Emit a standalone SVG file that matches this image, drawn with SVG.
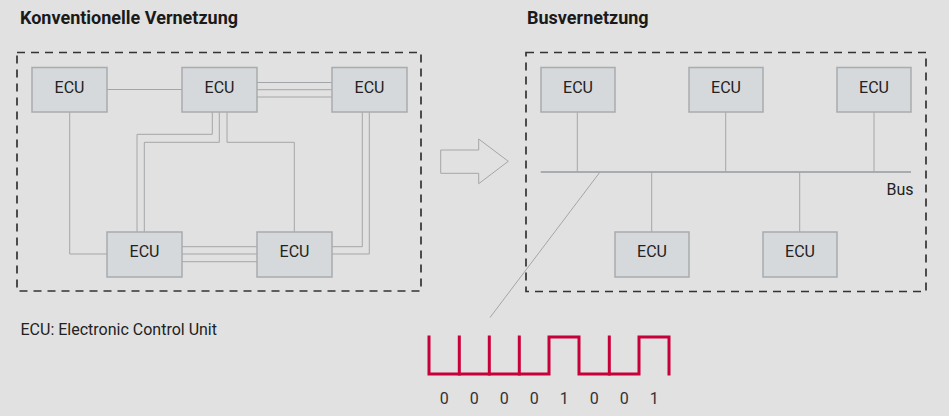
<svg xmlns="http://www.w3.org/2000/svg" width="949" height="416" viewBox="0 0 949 416">
<style>
.bg{fill:#e1e1e1}
.frame{fill:none;stroke:#333;stroke-width:1.7;stroke-dasharray:8 6}
.ecu rect{fill:#d6d9dc;stroke:#a9abad;stroke-width:1.5}
.ecu text,.lbl{font-family:Roboto,"Liberation Sans",sans-serif;fill:#222}
.ecu text{font-size:16px;text-anchor:middle}
.title{font-family:Roboto,"Liberation Sans",sans-serif;font-weight:bold;font-size:18px;fill:#1a1a1a}
.lbl{font-size:16px}
.wire{fill:none;stroke:#a3a6a8;stroke-width:1}
.bus{fill:none;stroke:#a8acaf;stroke-width:2}
.sig{fill:none;stroke:#c8003a;stroke-width:3;stroke-linejoin:miter;stroke-linecap:square}
.bits{font-family:Roboto,"Liberation Sans",sans-serif;font-size:16px;fill:#333;text-anchor:middle}
</style>
<rect class="bg" x="0" y="0" width="949" height="416"/>
<text class="title" x="20" y="24">Konventionelle Vernetzung</text>
<text class="title" x="527" y="24">Busvernetzung</text>
<rect class="frame" x="17" y="52.5" width="404" height="238.5"/>
<rect class="frame" x="526" y="52.5" width="400" height="239"/>

<g id="connectors">
<path class="wire" d="M107,89.5H182"/>
<path class="wire" d="M257,82.5H332M257,89.7H332M257,97H332"/>
<path class="wire" d="M69.7,112V254H107"/>
<path class="wire" d="M212.3,112V134.3H137V232"/>
<path class="wire" d="M219.3,112V142.3H144.3V232"/>
<path class="wire" d="M227,112V142.3H294.3V232"/>
<path class="wire" d="M362.3,112V246.7H332"/>
<path class="wire" d="M369.3,112V254H332"/>
<path class="wire" d="M182,246.7H257M182,254H257M182,261.7H257"/>
<path class="wire" d="M440.7,150H478.7V139L508.3,161.3L478.7,183.7V173.3H440.7Z" stroke="#9a9da0"/>
<path class="bus" d="M540.7,172H911"/>
<path class="wire" d="M577.3,112V172M725.7,112V172M874,112V172M651.7,172V232M799.7,172V232"/>
<path class="wire" d="M600,172L490,317.5"/>
<path class="sig" d="M429,337V374H549V337H579V374H639V337H669V374"/>
<path class="sig" d="M459.3,337V374M489.3,337V374M519.3,337V374M609.3,337V374"/>
</g>

<g id="ecu1" class="ecu"><rect x="32" y="67.5" width="75" height="44.5"/><text x="69.5" y="92.5">ECU</text></g>
<g id="ecu2" class="ecu"><rect x="182" y="67.5" width="75" height="44.5"/><text x="219.5" y="92.5">ECU</text></g>
<g id="ecu3" class="ecu"><rect x="332" y="67.5" width="75" height="44.5"/><text x="369.5" y="92.5">ECU</text></g>
<g id="ecu4" class="ecu"><rect x="107" y="232" width="75" height="45"/><text x="144.5" y="257">ECU</text></g>
<g id="ecu5" class="ecu"><rect x="257" y="232" width="75" height="45"/><text x="294.5" y="257">ECU</text></g>

<g id="bus-ecu1" class="ecu"><rect x="541" y="67.5" width="74" height="44.5"/><text x="578" y="92.5">ECU</text></g>
<g id="bus-ecu2" class="ecu"><rect x="689" y="67.5" width="74" height="44.5"/><text x="726" y="92.5">ECU</text></g>
<g id="bus-ecu3" class="ecu"><rect x="837" y="67.5" width="74" height="44.5"/><text x="874" y="92.5">ECU</text></g>
<g id="bus-ecu4" class="ecu"><rect x="615" y="232" width="74" height="45"/><text x="652" y="257">ECU</text></g>
<g id="bus-ecu5" class="ecu"><rect x="763" y="232" width="74" height="45"/><text x="800" y="257">ECU</text></g>

<text class="lbl" x="886.5" y="195">Bus</text>
<text class="lbl" x="20.5" y="335">ECU: Electronic Control Unit</text>

<g id="bits">
<text class="bits" x="444.3" y="404">0</text>
<text class="bits" x="474.3" y="404">0</text>
<text class="bits" x="504.3" y="404">0</text>
<text class="bits" x="534.3" y="404">0</text>
<text class="bits" x="564.3" y="404">1</text>
<text class="bits" x="594.3" y="404">0</text>
<text class="bits" x="624.3" y="404">0</text>
<text class="bits" x="654.3" y="404">1</text>
</g>
</svg>
